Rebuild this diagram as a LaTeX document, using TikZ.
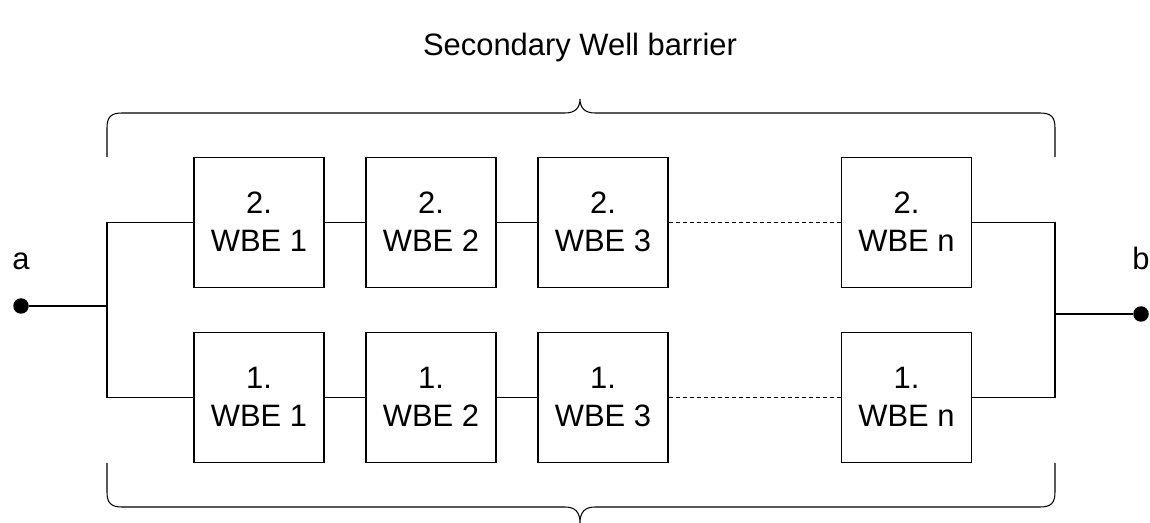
\documentclass[tikz,border=0pt]{standalone}
\usepackage{fontspec}
\setmainfont{Liberation Sans}

\begin{document}
\begin{tikzpicture}[x=0.02cm,y=-0.02cm,line width=0.6pt,
  every node/.style={font=\fontsize{17.6}{21.6}\selectfont},
  wbe/.style={draw,minimum width=2.6cm,minimum height=2.6cm,align=center,inner sep=0,execute at end node={\rule[-0.5pt]{0pt}{1pt}}},
  dot/.style={circle,fill,inner sep=0,minimum size=0.31cm}]
\useasboundingbox (0,0) rectangle (1150,523);
\node[anchor=base] (T) at (580,56) {Secondary Well barrier};
\node[wbe] (S1) at (259,222.5) {2.\\WBE 1}; \node[wbe] (S2) at (431,222.5) {2.\\WBE 2}; \node[wbe] (S3) at (603,222.5) {2.\\WBE 3}; \node[wbe] (Sn) at (906.5,222.5) {2.\\WBE n};
\node[wbe] (P1) at (259,397.5) {1.\\WBE 1}; \node[wbe] (P2) at (431,397.5) {1.\\WBE 2}; \node[wbe] (P3) at (603,397.5) {1.\\WBE 3}; \node[wbe] (Pn) at (906.5,397.5) {1.\\WBE n};
\node[dot] (a) at (21,306) {}; \node[dot] (b) at (1141,314) {};
\node[anchor=base] (la) at (21,270) {a}; \node[anchor=base] (lb) at (1141,270) {b};
\coordinate (ja) at (107,306); \coordinate (jb) at (1055,314);
\draw (a)--(ja); \draw (S1.west) -| (ja) |- (P1.west);
\draw (S1)--(S2); \draw (S2)--(S3); \draw[dash pattern=on 2.3pt off 1.7pt] (S3)--(Sn);
\draw (P1)--(P2); \draw (P2)--(P3); \draw[dash pattern=on 2.3pt off 1.7pt] (P3)--(Pn);
\draw (Sn.east) -| (jb) |- (Pn.east); \draw (jb)--(b);
\draw (107,157)--(107,128) .. controls (107,117) and (111,113) .. (122,113)--(565,113) .. controls (575,113) and (580,108) .. (580,99) .. controls (580,108) and (585,113) .. (595,113)--(1040,113) .. controls (1051,113) and (1055,117) .. (1055,128)--(1055,157);
\draw (107,463)--(107,492) .. controls (107,503) and (111,507) .. (122,507)--(565,507) .. controls (575,507) and (580,512) .. (580,523) .. controls (580,512) and (585,507) .. (595,507)--(1040,507) .. controls (1051,507) and (1055,503) .. (1055,492)--(1055,463);
\end{tikzpicture}
\end{document}
